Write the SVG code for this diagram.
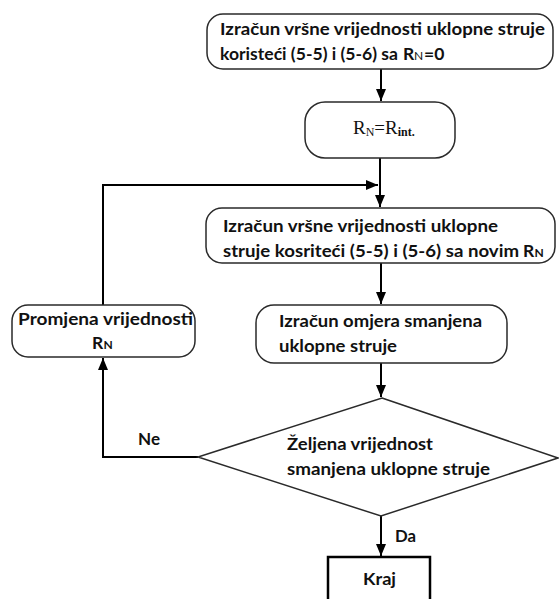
<svg xmlns="http://www.w3.org/2000/svg" width="559" height="599" viewBox="0 0 559 599">
<style>
.box{fill:#fff;stroke:#2a2a2a;stroke-width:1.5}
.t{font-family:Lato,"Liberation Sans",sans-serif;font-weight:bold;font-size:17.5px;fill:#111}
.s{font-size:12px}
.c{fill:none;stroke:#000;stroke-width:2}
.rn{font-family:"Liberation Serif","Times New Roman",serif;fill:#111}
</style>
<defs>
<marker id="ah" markerUnits="userSpaceOnUse" markerWidth="12" markerHeight="10" refX="12" refY="5" orient="auto">
<path d="M0,0 L12,5 L0,10 z" fill="#000"/>
</marker>
</defs>
<rect width="559" height="599" fill="#fff"/>
<g id="connectors">
<line class="c" x1="381" y1="69" x2="381" y2="101" marker-end="url(#ah)"/>
<line class="c" x1="380" y1="158" x2="380" y2="207" marker-end="url(#ah)"/>
<polyline class="c" points="103,305 103,185 378,185" marker-end="url(#ah)"/>
<line class="c" x1="381" y1="263" x2="381" y2="304" marker-end="url(#ah)"/>
<line class="c" x1="381" y1="363" x2="381" y2="397" marker-end="url(#ah)"/>
<polyline class="c" points="198,457 103,457 103,358" marker-end="url(#ah)"/>
<line class="c" x1="381" y1="516" x2="381" y2="556" marker-end="url(#ah)"/>
<text class="t" x="138" y="445" textLength="22" lengthAdjust="spacingAndGlyphs">Ne</text>
<text class="t" x="395" y="542" textLength="21" lengthAdjust="spacingAndGlyphs">Da</text>
</g>
<g id="n1">
<rect class="box" x="207" y="14" width="346" height="55" rx="16"/>
<text class="t" x="220" y="35" textLength="325" lengthAdjust="spacingAndGlyphs">Izračun vršne vrijednosti uklopne struje</text>
<text class="t" x="220" y="60" textLength="178" lengthAdjust="spacingAndGlyphs">koristeći (5-5) i (5-6) sa</text>
<text class="t" x="403" y="60">R<tspan class="s" font-weight="normal" x="414">N</tspan><tspan x="424">=0</tspan></text>
</g>
<g id="n2">
<rect class="box" x="305" y="102" width="150" height="56" rx="20"/>
<text class="rn" x="353" y="134" font-size="19">R<tspan font-size="12" dy="2">N</tspan><tspan dy="-2">=R</tspan><tspan font-size="12" font-weight="bold" dy="2">int.</tspan></text>
</g>
<g id="n3">
<rect class="box" x="206" y="208" width="349" height="55" rx="16"/>
<text class="t" x="223" y="232" textLength="275" lengthAdjust="spacingAndGlyphs">Izračun vršne vrijednosti uklopne</text>
<text class="t" x="223" y="257" textLength="296" lengthAdjust="spacingAndGlyphs">struje kosriteći (5-5) i (5-6) sa novim</text>
<text class="t" x="523" y="257">R<tspan class="s" x="534.5">N</tspan></text>
</g>
<g id="n4">
<rect class="box" x="12" y="305" width="183" height="52" rx="16"/>
<text class="t" x="18" y="325" textLength="175" lengthAdjust="spacingAndGlyphs">Promjena vrijednosti</text>
<text class="t" x="92" y="349">R<tspan class="s" x="103.5">N</tspan></text>
</g>
<g id="n5">
<rect class="box" x="256" y="305" width="251" height="58" rx="18"/>
<text class="t" x="279" y="327" textLength="203" lengthAdjust="spacingAndGlyphs">Izračun omjera smanjena</text>
<text class="t" x="279" y="352" textLength="118" lengthAdjust="spacingAndGlyphs">uklopne struje</text>
</g>
<g id="n6">
<polygon class="box" points="382,398 558,458 381,516 198,457"/>
<text class="t" x="287" y="450" textLength="146" lengthAdjust="spacingAndGlyphs">Željena vrijednost</text>
<text class="t" x="287" y="475" textLength="203" lengthAdjust="spacingAndGlyphs">smanjena uklopne struje</text>
</g>
<g id="n7">
<rect x="328" y="557" width="102" height="60" fill="#fff" stroke="#000" stroke-width="2.5"/>
<text class="t" x="363" y="585" textLength="33" lengthAdjust="spacingAndGlyphs">Kraj</text>
</g>
</svg>
